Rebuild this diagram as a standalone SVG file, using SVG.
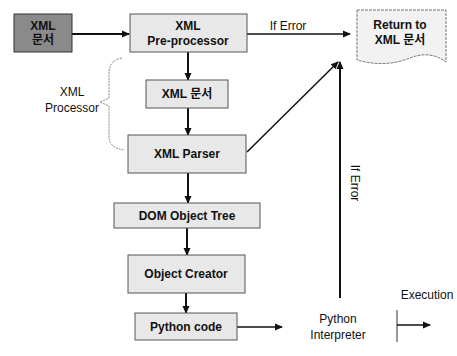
<svg xmlns="http://www.w3.org/2000/svg" width="457" height="356" viewBox="0 0 457 356">
<style>
.box{fill:#e8e8e8;stroke:#555;stroke-width:1}
.t{font-family:"Liberation Sans","Noto Sans CJK KR",sans-serif;font-size:12px;font-weight:bold;fill:#111;text-anchor:middle}
.p{font-family:"Liberation Sans","Noto Sans CJK KR",sans-serif;font-size:12px;fill:#111;text-anchor:middle}
.c{stroke:#111;stroke-width:2;fill:none}
.c1{stroke:#111;stroke-width:1.5;fill:none}
</style>
<defs>
<marker id="ah" markerWidth="8" markerHeight="8" refX="7" refY="4" orient="auto" markerUnits="userSpaceOnUse">
<path d="M0,0.5 L8,4 L0,7.5 Z" fill="#111"/>
</marker>
</defs>
<rect width="457" height="356" fill="#fff"/>
<g id="connectors">
<line class="c" x1="72" y1="34" x2="129" y2="34" marker-end="url(#ah)"/>
<line class="c1" x1="247" y1="34" x2="350" y2="34" marker-end="url(#ah)"/>
<line class="c" x1="188" y1="52" x2="188" y2="80" marker-end="url(#ah)"/>
<line class="c" x1="188" y1="108" x2="188" y2="135" marker-end="url(#ah)"/>
<line class="c" x1="188" y1="173" x2="188" y2="203" marker-end="url(#ah)"/>
<line class="c" x1="187" y1="228" x2="187" y2="255" marker-end="url(#ah)"/>
<line class="c" x1="186" y1="293" x2="186" y2="313" marker-end="url(#ah)"/>
<line class="c1" x1="247" y1="152" x2="338" y2="62" marker-end="url(#ah)"/>
<line class="c" x1="340" y1="298" x2="340" y2="62" marker-end="url(#ah)"/>
<line class="c1" x1="237" y1="327" x2="282" y2="327" marker-end="url(#ah)"/>
<line stroke="#333" stroke-width="1" x1="397" y1="310" x2="397" y2="342"/>
<line class="c1" x1="397" y1="325" x2="430" y2="325" marker-end="url(#ah)"/>
<path d="M122,58 Q110,60 109,72 L109,98 L100,102 L109,106 L109,138 Q110,148 124,150" fill="none" stroke="#888" stroke-width="1" stroke-dasharray="2,1"/>
</g>
<g id="xmldoc-src">
<rect x="14" y="14" width="58" height="38" fill="#8a8a8a" stroke="#333"/>
<text class="t" x="43" y="30" font-size="9">XML</text>
<text class="t" x="43" y="44" font-size="9">문서</text>
</g>
<g id="preprocessor">
<rect class="box" x="130" y="14" width="117" height="38"/>
<text class="t" x="188" y="30">XML</text>
<text class="t" x="188" y="45">Pre-processor</text>
</g>
<g id="iferror-top"><text class="p" x="288" y="30">If Error</text></g>
<g id="return">
<path d="M357,10 L446,10 L446,62 Q430,50 410,58 Q385,68 357,60 Z" fill="#f2f2f2" stroke="#777" stroke-dasharray="3,1"/>
<text class="t" x="400" y="29">Return to</text>
<text class="t" x="400" y="44">XML 문서</text>
</g>
<g id="xmldoc">
<rect class="box" x="146" y="80" width="82" height="28"/>
<text class="t" x="187" y="98">XML 문서</text>
</g>
<g id="processor-label">
<text class="p" x="72" y="96">XML</text>
<text class="p" x="72" y="112">Processor</text>
</g>
<g id="parser">
<rect class="box" x="128" y="135" width="118" height="38"/>
<text class="t" x="187" y="158">XML Parser</text>
</g>
<g id="dom">
<rect class="box" x="114" y="203" width="146" height="25"/>
<text class="t" x="187" y="220">DOM Object Tree</text>
</g>
<g id="creator">
<rect class="box" x="128" y="255" width="117" height="38"/>
<text class="t" x="186" y="278">Object Creator</text>
</g>
<g id="pycode">
<rect class="box" x="135" y="313" width="102" height="27"/>
<text class="t" x="186" y="331">Python code</text>
</g>
<g id="iferror-vert"><text class="p" transform="translate(351,183) rotate(90)">If Error</text></g>
<g id="interpreter">
<text class="p" x="338" y="323">Python</text>
<text class="p" x="338" y="339">Interpreter</text>
</g>
<g id="execution"><text class="p" x="427" y="299">Execution</text></g>
</svg>
